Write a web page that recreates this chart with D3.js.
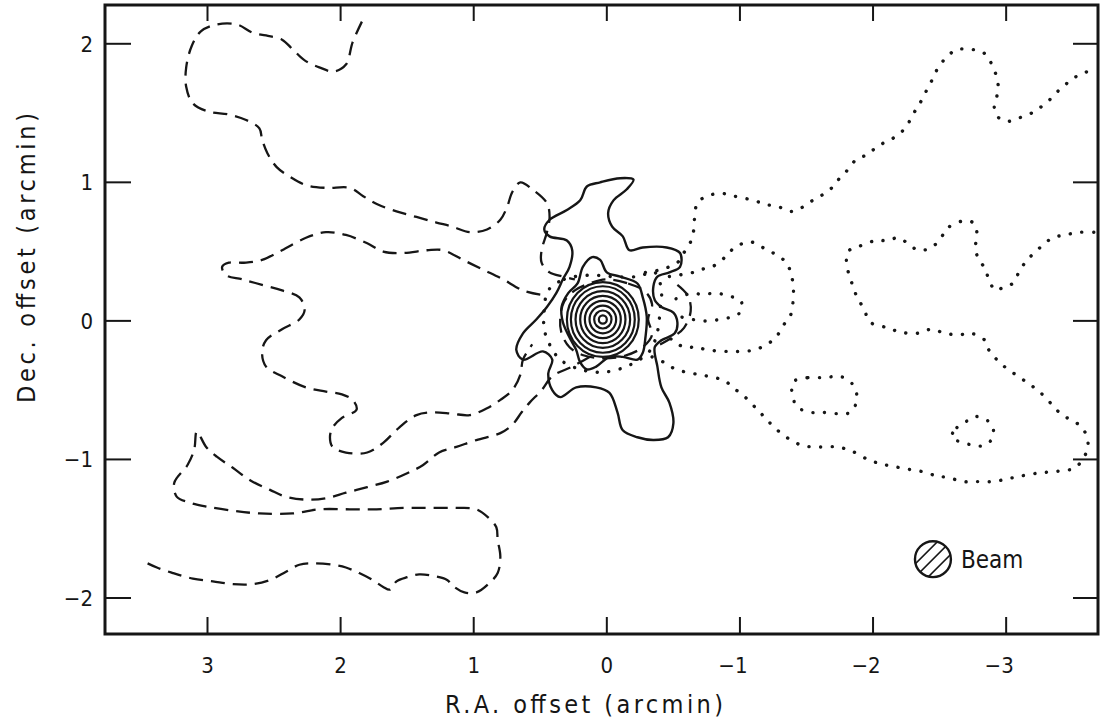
<!DOCTYPE html>
<html lang="en">
<head>
<meta charset="UTF-8" />
<title>450 micron map</title>
<script src="https://d3js.org/d3.v7.min.js"></script>
<style>
  body { margin: 0; background: #ffffff; }
  svg { display: block; }
  .label { font-family: "DejaVu Sans Condensed", "DejaVu Sans", sans-serif; font-size: 22px; fill: #151515; }
  .title { font-size: 25px; }
</style>
</head>
<body>
<div id="chart"></div>
<script>
// contour paths, [R.A. offset, Dec. offset] in arcmin

// dashed contours (west side)
const dashedNorthWest = [[1.84,2.16],[1.91,2.01],[1.96,1.85],[2.05,1.80],[2.16,1.83],[2.27,1.88],[2.36,1.96],[2.44,2.03],[2.56,2.06],[2.66,2.08],[2.78,2.14],[2.93,2.14],[3.05,2.09],[3.12,1.98],[3.16,1.83],[3.16,1.69],[3.11,1.57],[2.99,1.51],[2.84,1.49],[2.71,1.45],[2.61,1.39],[2.59,1.31],[2.55,1.21],[2.48,1.11],[2.38,1.04],[2.26,0.98],[2.11,0.96],[1.93,0.96],[1.83,0.90],[1.72,0.84],[1.58,0.79],[1.43,0.75],[1.28,0.71],[1.16,0.68],[1.03,0.64],[0.90,0.66],[0.80,0.73],[0.75,0.82],[0.71,0.93],[0.65,1.00],[0.56,0.95],[0.45,0.85],[0.43,0.75],[0.45,0.64],[0.49,0.51],[0.49,0.42],[0.43,0.35],[0.33,0.32],[0.24,0.30]];
const dashedWestLoop = [[0.50,0.19],[0.63,0.22],[0.78,0.30],[0.93,0.37],[1.08,0.44],[1.23,0.51],[1.35,0.51],[1.53,0.49],[1.68,0.50],[1.80,0.56],[1.96,0.62],[2.11,0.64],[2.26,0.60],[2.44,0.51],[2.59,0.44],[2.71,0.42],[2.84,0.42],[2.89,0.39],[2.86,0.33],[2.74,0.30],[2.59,0.26],[2.44,0.22],[2.31,0.17],[2.27,0.08],[2.31,0.01],[2.44,-0.06],[2.56,-0.14],[2.59,-0.23],[2.56,-0.33],[2.44,-0.40],[2.26,-0.48],[2.11,-0.51],[1.99,-0.53],[1.91,-0.57],[1.88,-0.64],[1.99,-0.70],[2.06,-0.77],[2.08,-0.84],[2.06,-0.91],[1.96,-0.95],[1.80,-0.95],[1.68,-0.88],[1.56,-0.77],[1.43,-0.68],[1.31,-0.66],[1.16,-0.67],[1.03,-0.68],[0.90,-0.63],[0.80,-0.57],[0.71,-0.50],[0.65,-0.39],[0.63,-0.28],[0.56,-0.17]];
const dashedSouth = [[0.13,-0.26],[0.26,-0.33],[0.41,-0.40],[0.49,-0.50],[0.58,-0.59],[0.64,-0.66],[0.71,-0.75],[0.80,-0.81],[0.98,-0.86],[1.13,-0.91],[1.26,-0.95],[1.38,-1.04],[1.50,-1.10],[1.65,-1.16],[1.80,-1.20],[1.96,-1.24],[2.11,-1.28],[2.26,-1.29],[2.41,-1.27],[2.53,-1.22],[2.68,-1.15],[2.81,-1.06],[2.93,-0.98],[3.01,-0.91],[3.08,-0.80],[3.10,-0.93],[3.15,-1.04],[3.25,-1.17],[3.23,-1.27],[3.14,-1.31],[3.01,-1.34],[2.81,-1.37],[2.61,-1.39],[2.36,-1.39],[2.16,-1.36],[1.93,-1.36],[1.73,-1.36],[1.53,-1.35],[1.33,-1.35],[1.13,-1.35],[0.98,-1.36],[0.89,-1.42],[0.83,-1.49],[0.82,-1.58],[0.80,-1.70],[0.82,-1.82],[0.88,-1.89],[0.98,-1.96],[1.07,-1.96],[1.16,-1.91],[1.20,-1.87],[1.31,-1.84],[1.41,-1.83],[1.50,-1.85],[1.58,-1.88],[1.63,-1.94],[1.68,-1.92],[1.76,-1.87],[1.86,-1.82],[1.96,-1.78],[2.06,-1.76],[2.21,-1.75],[2.31,-1.76],[2.41,-1.81],[2.53,-1.87],[2.66,-1.90],[2.81,-1.90],[2.96,-1.88],[3.11,-1.86],[3.26,-1.82],[3.38,-1.78],[3.45,-1.75]];
const dashedCore = [[0.00,0.30],[-0.16,0.27],[-0.29,0.21],[-0.34,0.12],[-0.31,0.01],[-0.34,-0.10],[-0.27,-0.19],[-0.14,-0.25],[0.02,-0.27],[0.17,-0.25],[0.28,-0.19],[0.34,-0.09],[0.35,0.02],[0.32,0.14],[0.24,0.22],[0.13,0.27]];
const dashedCoreEast = [[-0.53,0.26],[-0.61,0.18],[-0.63,0.07],[-0.58,-0.05],[-0.49,-0.12],[-0.40,-0.17]];

// solid contours (peak)
const solidOuter = [[-0.20,1.02],[-0.15,0.95],[-0.05,0.87],[-0.01,0.78],[-0.04,0.68],[-0.12,0.61],[-0.17,0.51],[-0.27,0.53],[-0.45,0.53],[-0.55,0.49],[-0.55,0.39],[-0.47,0.35],[-0.38,0.32],[-0.35,0.25],[-0.36,0.15],[-0.41,0.10],[-0.50,0.06],[-0.53,-0.01],[-0.51,-0.09],[-0.41,-0.14],[-0.36,-0.19],[-0.38,-0.33],[-0.41,-0.48],[-0.47,-0.59],[-0.50,-0.74],[-0.46,-0.84],[-0.35,-0.86],[-0.23,-0.84],[-0.12,-0.79],[-0.08,-0.66],[-0.02,-0.52],[0.08,-0.48],[0.23,-0.48],[0.35,-0.55],[0.41,-0.50],[0.44,-0.38],[0.41,-0.28],[0.48,-0.22],[0.63,-0.28],[0.68,-0.21],[0.63,-0.09],[0.53,0.01],[0.45,0.10],[0.38,0.20],[0.33,0.30],[0.28,0.39],[0.26,0.51],[0.30,0.58],[0.43,0.61],[0.47,0.66],[0.43,0.73],[0.30,0.80],[0.20,0.87],[0.15,0.97],[0.05,1.00],[-0.10,1.03]];
const solidInner = [[0.11,0.46],[0.18,0.39],[0.22,0.27],[0.29,0.20],[0.34,0.10],[0.33,-0.01],[0.28,-0.12],[0.23,-0.21],[0.20,-0.30],[0.15,-0.35],[0.08,-0.33],[-0.02,-0.26],[-0.12,-0.26],[-0.23,-0.28],[-0.27,-0.23],[-0.29,-0.12],[-0.30,0.03],[-0.27,0.17],[-0.23,0.27],[-0.10,0.32],[0.00,0.35],[0.05,0.44]];
const coreCentre = [0.03, 0.01];
const coreRingRadii = [0.03, 0.065, 0.1, 0.135, 0.17, 0.205, 0.24, 0.27];

// dotted contours (east side)
const dottedCore = [[0.44,0.22],[0.32,0.30],[0.13,0.33],[-0.04,0.32],[-0.23,0.32],[-0.36,0.35],[-0.41,0.22],[-0.40,0.08],[-0.38,-0.08],[-0.32,-0.22],[-0.17,-0.32],[0.02,-0.37],[0.20,-0.35],[0.35,-0.28],[0.43,-0.17],[0.47,-0.06],[0.47,0.08]];
const dottedNorthEast = [[-0.29,0.35],[-0.36,0.36],[-0.44,0.38],[-0.53,0.42],[-0.57,0.48],[-0.62,0.55],[-0.65,0.64],[-0.66,0.75],[-0.68,0.85],[-0.75,0.90],[-0.86,0.92],[-0.96,0.90],[-1.10,0.87],[-1.20,0.84],[-1.30,0.82],[-1.38,0.79],[-1.45,0.81],[-1.53,0.86],[-1.62,0.91],[-1.69,0.96],[-1.74,1.02],[-1.80,1.08],[-1.88,1.17],[-1.96,1.20],[-2.02,1.25],[-2.09,1.29],[-2.17,1.33],[-2.24,1.39],[-2.29,1.47],[-2.33,1.54],[-2.37,1.60],[-2.41,1.68],[-2.45,1.75],[-2.49,1.83],[-2.56,1.91],[-2.63,1.96],[-2.71,1.96],[-2.80,1.95],[-2.86,1.91],[-2.90,1.83],[-2.93,1.76],[-2.94,1.69],[-2.93,1.62],[-2.91,1.55],[-2.94,1.47],[-3.01,1.44],[-3.08,1.46],[-3.17,1.49],[-3.24,1.53],[-3.31,1.58],[-3.38,1.65],[-3.44,1.70],[-3.50,1.75],[-3.59,1.79],[-3.66,1.83]];
const dottedEastLoop = [[-0.47,0.32],[-0.65,0.35],[-0.74,0.38],[-0.81,0.40],[-0.91,0.48],[-0.96,0.53],[-1.08,0.57],[-1.17,0.53],[-1.25,0.49],[-1.35,0.42],[-1.38,0.35],[-1.40,0.26],[-1.40,0.16],[-1.38,0.04],[-1.32,-0.04],[-1.27,-0.12],[-1.20,-0.17],[-1.11,-0.21],[-1.00,-0.22],[-0.90,-0.22],[-0.76,-0.21],[-0.67,-0.19],[-0.58,-0.19],[-0.51,-0.15],[-0.44,-0.10]];
const dottedEastInner = [[-0.52,0.16],[-0.64,0.20],[-0.72,0.19],[-0.81,0.20],[-0.92,0.18],[-1.01,0.14],[-1.00,0.06],[-0.94,0.03],[-0.85,0.01],[-0.72,0.00],[-0.55,0.03]];
const dottedSouthEast = [[-0.34,-0.26],[-0.43,-0.30],[-0.52,-0.35],[-0.65,-0.38],[-0.76,-0.40],[-0.88,-0.43],[-0.96,-0.49],[-1.05,-0.56],[-1.13,-0.64],[-1.19,-0.70],[-1.26,-0.77],[-1.35,-0.84],[-1.47,-0.90],[-1.60,-0.91],[-1.73,-0.91],[-1.84,-0.94],[-1.96,-1.00],[-2.05,-1.03],[-2.15,-1.05],[-2.26,-1.07],[-2.38,-1.09],[-2.48,-1.12],[-2.56,-1.13],[-2.68,-1.16],[-2.78,-1.16],[-2.90,-1.16],[-3.01,-1.14],[-3.11,-1.12],[-3.23,-1.10],[-3.33,-1.09],[-3.43,-1.08],[-3.52,-1.06],[-3.61,-0.93],[-3.61,-0.85],[-3.57,-0.77],[-3.50,-0.72],[-3.42,-0.68],[-3.35,-0.61],[-3.26,-0.52],[-3.18,-0.46],[-3.09,-0.40],[-3.00,-0.34],[-2.93,-0.28],[-2.87,-0.21],[-2.84,-0.14],[-2.74,-0.09],[-2.65,-0.10],[-2.54,-0.09],[-2.44,-0.06],[-2.33,-0.09],[-2.20,-0.08],[-2.11,-0.05],[-1.98,-0.01],[-1.93,0.09],[-1.88,0.17],[-1.85,0.25],[-1.82,0.33],[-1.80,0.43],[-1.81,0.50],[-1.90,0.54],[-2.02,0.58],[-2.11,0.58],[-2.19,0.60],[-2.26,0.56],[-2.34,0.51],[-2.44,0.53],[-2.51,0.60],[-2.56,0.67],[-2.67,0.72],[-2.75,0.71],[-2.78,0.64],[-2.77,0.53],[-2.79,0.45],[-2.84,0.38],[-2.87,0.30],[-2.92,0.22],[-2.99,0.25],[-3.05,0.27],[-3.10,0.36],[-3.15,0.43],[-3.21,0.49],[-3.28,0.55],[-3.35,0.60],[-3.44,0.62],[-3.56,0.64],[-3.66,0.64]];
const dottedSmallLoop = [[-1.40,-0.44],[-1.51,-0.41],[-1.64,-0.41],[-1.75,-0.40],[-1.84,-0.45],[-1.88,-0.56],[-1.83,-0.66],[-1.74,-0.67],[-1.62,-0.66],[-1.53,-0.66],[-1.43,-0.62],[-1.39,-0.51]];
const dottedTriangle = [[-2.59,-0.84],[-2.63,-0.77],[-2.71,-0.72],[-2.77,-0.69],[-2.86,-0.72],[-2.90,-0.77],[-2.90,-0.84],[-2.84,-0.90],[-2.77,-0.90],[-2.68,-0.88]];

// axes
const xTicks = [3, 2, 1, 0, -1, -2, -3];
const yTicks = [2, 1, 0, -1, -2];
const xDomain = [3.77, -3.69];
const yDomain = [-2.26, 2.28];

// beam marker
const beamPos = [-2.45, -1.72];
const beamRadius = 0.135;
const beamLabel = "Beam";

const W = 1104, H = 718;
const frame = { left: 105, right: 1098, top: 5, bottom: 634 };
const ink = "#161616";

const svg = d3.select("#chart").append("svg").attr("width", W).attr("height", H);

const x = d3.scaleLinear().domain(xDomain).range([frame.left, frame.right]);
const y = d3.scaleLinear().domain(yDomain).range([frame.bottom, frame.top]);

const openLine = d3.line().x(d => x(d[0])).y(d => y(d[1])).curve(d3.curveCatmullRom.alpha(0.5));
const closedLine = d3.line().x(d => x(d[0])).y(d => y(d[1])).curve(d3.curveCatmullRomClosed.alpha(0.5));

svg.append("clipPath").attr("id", "plotClip")
  .append("rect")
  .attr("x", frame.left).attr("y", frame.top)
  .attr("width", frame.right - frame.left).attr("height", frame.bottom - frame.top);

const plot = svg.append("g").attr("clip-path", "url(#plotClip)");

// draw one contour with a given style
function drawContour(points, closed, style) {
  const p = plot.append("path")
    .attr("d", closed ? closedLine(points) : openLine(points))
    .attr("fill", "none")
    .attr("stroke", ink)
    .attr("stroke-linejoin", "round");
  if (style === "dashed") {
    p.attr("stroke-width", 2.3).attr("stroke-dasharray", "14 8");
  } else if (style === "dotted") {
    p.attr("stroke-width", 3.4).attr("stroke-linecap", "round").attr("stroke-dasharray", "0.1 11.5");
  } else {
    p.attr("stroke-width", 2.4);
  }
}

drawContour(dashedNorthWest, false, "dashed");
drawContour(dashedWestLoop, false, "dashed");
drawContour(dashedSouth, false, "dashed");
drawContour(dashedCore, true, "dashed");
drawContour(dashedCoreEast, false, "dashed");

drawContour(dottedCore, true, "dotted");
drawContour(dottedNorthEast, false, "dotted");
drawContour(dottedEastLoop, false, "dotted");
drawContour(dottedEastInner, false, "dotted");
drawContour(dottedSouthEast, false, "dotted");
drawContour(dottedSmallLoop, true, "dotted");
drawContour(dottedTriangle, true, "dotted");

drawContour(solidOuter, true, "solid");
drawContour(solidInner, true, "solid");

// concentric rings at the peak
plot.selectAll(".ring")
  .data(coreRingRadii)
  .enter()
  .append("ellipse")
  .attr("class", "ring")
  .attr("cx", x(coreCentre[0]))
  .attr("cy", y(coreCentre[1]))
  .attr("rx", r => Math.abs(x(r) - x(0)))
  .attr("ry", r => Math.abs(y(r) - y(0)))
  .attr("fill", "none")
  .attr("stroke", ink)
  .attr("stroke-width", 2.2);

// frame and inward ticks
svg.append("rect")
  .attr("x", frame.left).attr("y", frame.top)
  .attr("width", frame.right - frame.left).attr("height", frame.bottom - frame.top)
  .attr("fill", "none").attr("stroke", ink).attr("stroke-width", 3);

const ticks = svg.append("g").attr("stroke", ink).attr("stroke-width", 2);
xTicks.forEach(t => {
  ticks.append("line").attr("x1", x(t)).attr("x2", x(t)).attr("y1", frame.bottom).attr("y2", frame.bottom - 17);
  ticks.append("line").attr("x1", x(t)).attr("x2", x(t)).attr("y1", frame.top).attr("y2", frame.top + 16);
});
yTicks.forEach(t => {
  ticks.append("line").attr("x1", frame.left).attr("x2", frame.left + 26).attr("y1", y(t)).attr("y2", y(t));
  ticks.append("line").attr("x1", frame.right).attr("x2", frame.right - 25).attr("y1", y(t)).attr("y2", y(t));
});

const fmt = v => (v < 0 ? "\u2212" + Math.abs(v) : String(v));

svg.selectAll(".xlab")
  .data(xTicks)
  .enter()
  .append("text")
  .attr("class", "label")
  .attr("x", d => x(d) - (d < 0 ? 7 : 0))
  .attr("y", 673)
  .attr("text-anchor", "middle")
  .text(fmt);

svg.selectAll(".ylab")
  .data(yTicks)
  .enter()
  .append("text")
  .attr("class", "label")
  .attr("x", 93)
  .attr("y", d => y(d) + 8)
  .attr("text-anchor", "end")
  .text(fmt);

svg.append("text")
  .attr("class", "label title")
  .attr("x", 584)
  .attr("y", 713)
  .attr("text-anchor", "middle")
  .attr("textLength", 278)
  .text("R.A. offset (arcmin)");

svg.append("text")
  .attr("class", "label title")
  .attr("transform", "translate(35," + 258 + ") rotate(-90)")
  .attr("text-anchor", "middle")
  .attr("textLength", 290)
  .text("Dec. offset (arcmin)");

// beam marker with hatching
const bx = x(beamPos[0]), by = y(beamPos[1]);
const br = Math.abs(x(beamRadius) - x(0));
svg.append("clipPath").attr("id", "beamClip")
  .append("circle").attr("cx", bx).attr("cy", by).attr("r", br);
const hatch = svg.append("g").attr("clip-path", "url(#beamClip)").attr("stroke", ink).attr("stroke-width", 1.6);
d3.range(-4, 5).forEach(k => {
  const off = k * 6.5;
  hatch.append("line")
    .attr("x1", bx - br * 1.5 + off).attr("y1", by + br * 1.5 + off)
    .attr("x2", bx + br * 1.5 + off).attr("y2", by - br * 1.5 + off);
});
svg.append("circle").attr("cx", bx).attr("cy", by).attr("r", br)
  .attr("fill", "none").attr("stroke", ink).attr("stroke-width", 2.4);
svg.append("text")
  .attr("class", "label")
  .style("font-size", "24px")
  .attr("x", bx + br + 10)
  .attr("y", by + 9)
  .text(beamLabel);
</script>
</body>
</html>
